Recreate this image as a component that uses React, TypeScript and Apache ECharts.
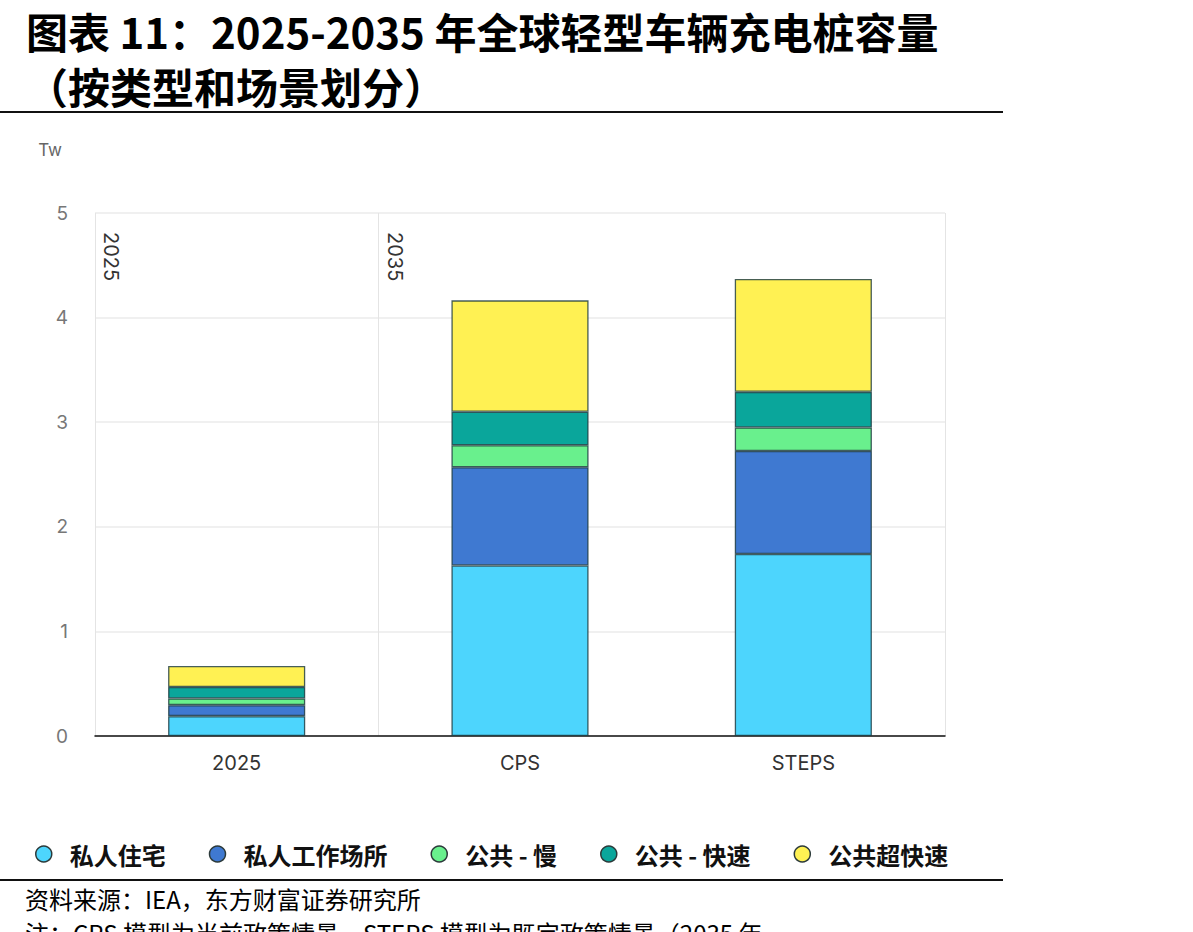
import React, { useEffect, useRef } from "react";
import * as echarts from "echarts";

const categories = ["2025", "CPS", "STEPS"];
const seriesNames = ["私人住宅", "私人工作场所", "公共 - 慢", "公共 - 快速", "公共超快速"];
const privateHome = [0.19, 1.63, 1.74];
const privateWork = [0.105, 0.94, 0.985];
const publicSlow = [0.064, 0.21, 0.225];
const publicFast = [0.11, 0.32, 0.34];
const publicUltra = [0.2, 1.065, 1.08];
const yTicks = [0, 1, 2, 3, 4, 5];
const groupLabels = ["2025", "2035"];

const colors = ["#4dd5fd", "#3f79d1", "#69f08d", "#0aa69b", "#fff153"];

export default function App() {
  const ref = useRef<HTMLDivElement>(null);
  useEffect(() => {
    document.body.style.margin = "0";
    const chart = echarts.init(ref.current!, null, { renderer: "svg" });
    const values = [privateHome, privateWork, publicSlow, publicFast, publicUltra];
    const font = "Inter, 'Noto Sans', sans-serif";
    const cjk = "'Noto Sans CJK SC', sans-serif";
    chart.setOption({
      animation: false,
      backgroundColor: "#ffffff",
      grid: { left: 95, right: 248, top: 213, bottom: 196 },
      legend: {
        left: 35,
        top: 842,
        padding: 0,
        icon: "circle",
        itemWidth: 16,
        itemHeight: 16,
        itemGap: 43,
        itemStyle: { borderColor: "#2c3a3a", borderWidth: 1.5 },
        textStyle: { fontFamily: cjk, fontSize: 24, fontWeight: "bold", color: "#111", padding: [0, 0, 0, 13] },
        data: seriesNames,
      },
      xAxis: {
        type: "category",
        data: categories,
        axisLine: { lineStyle: { color: "#111", width: 1.5 } },
        axisTick: { length: 15, lineStyle: { color: "#111", width: 1.5 } },
        axisLabel: { color: "#333", fontSize: 20, fontFamily: font, margin: 17 },
        splitLine: {
          show: true,
          interval: (i: number) => i === 0 || i === 1,
          lineStyle: { color: "#e4e4e4", width: 1 },
        },
      },
      yAxis: {
        type: "value",
        min: 0,
        max: 5,
        interval: 1,
        name: "Tw",
        nameLocation: "end",
        nameGap: 55,
        nameTextStyle: { color: "#666", fontSize: 17, fontFamily: font, align: "right", padding: [0, 33, 0, 0] },
        axisLine: { show: false },
        axisTick: { show: false },
        axisLabel: {
          color: "#777",
          fontSize: 19,
          fontFamily: font,
          margin: 27,
          formatter: (v: number) => (yTicks.includes(v) ? String(v) : ""),
        },
        splitLine: { lineStyle: { color: "#ebebeb", width: 1.5 } },
      },
      series: seriesNames.map((n, i) => ({
        name: n,
        type: "bar",
        stack: "total",
        barWidth: "48.4%",
        data: values[i],
        itemStyle: { color: colors[i], borderColor: "rgba(25,55,60,0.8)", borderWidth: 1.3 },
      })),
      graphic: [
        {
          type: "text",
          left: 26,
          top: 3,
          style: {
            text: "图表 11：2025-2035 年全球轻型车辆充电桩容量\n（按类型和场景划分）",
            fontFamily: cjk,
            fontSize: 42,
            lineHeight: 55,
            fontWeight: "bold",
            fill: "#000",
          },
        },
        { type: "line", shape: { x1: 0, y1: 112, x2: 1003, y2: 112 }, style: { stroke: "#111", lineWidth: 2 } },
        { type: "line", shape: { x1: 0, y1: 880, x2: 1003, y2: 880 }, style: { stroke: "#111", lineWidth: 2 } },
        {
          type: "text",
          left: 25,
          top: 886,
          style: { text: "资料来源：IEA，东方财富证券研究所", fontFamily: cjk, fontSize: 24, fill: "#000" },
        },
        {
          type: "text",
          left: 25,
          top: 920,
          style: { text: "注：CPS 模型为当前政策情景，STEPS 模型为既定政策情景（2035 年", fontFamily: cjk, fontSize: 24, fill: "#000" },
        },
        {
          type: "text",
          x: 101,
          y: 232,
          rotation: -Math.PI / 2,
          style: { text: groupLabels[0], fontFamily: font, fontSize: 20, fill: "#333", align: "left", verticalAlign: "bottom" },
        },
        {
          type: "text",
          x: 385,
          y: 232,
          rotation: -Math.PI / 2,
          style: { text: groupLabels[1], fontFamily: font, fontSize: 20, fill: "#333", align: "left", verticalAlign: "bottom" },
        },
      ],
    });
    return () => chart.dispose();
  }, []);
  return <div ref={ref} style={{ width: 1193, height: 932 }} />;
}
